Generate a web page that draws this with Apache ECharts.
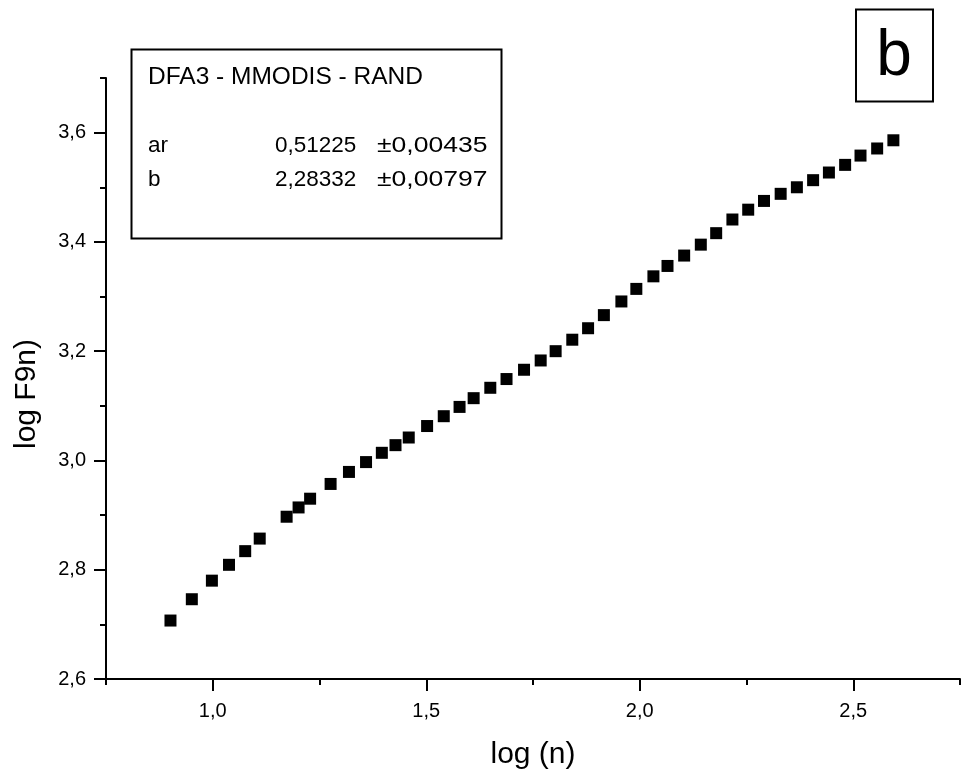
<!DOCTYPE html>
<html>
<head>
<meta charset="utf-8">
<script src="https://cdn.jsdelivr.net/npm/echarts@6/dist/echarts.min.js"></script>
<style>
  html, body { margin: 0; padding: 0; background: #fff; }
  #chart { width: 961px; height: 775px; }
</style>
</head>
<body>
<div id="chart"></div>
<script>
// log (n)
const logN = [
  0.901, 0.951, 0.998, 1.038, 1.076, 1.110, 1.173, 1.201, 1.228, 1.276,
  1.319, 1.359, 1.396, 1.428, 1.459, 1.502, 1.541, 1.578, 1.611, 1.650,
  1.688, 1.729, 1.768, 1.803, 1.842, 1.879, 1.916, 1.957, 1.992, 2.032,
  2.065, 2.104, 2.143, 2.179, 2.217, 2.254, 2.291, 2.330, 2.368, 2.406,
  2.443, 2.481, 2.517, 2.556, 2.594
];
// log F9n)
const logF = [
  2.707, 2.746, 2.780, 2.809, 2.834, 2.857, 2.897, 2.914, 2.930, 2.957,
  2.979, 2.997, 3.014, 3.028, 3.042, 3.063, 3.081, 3.098, 3.114, 3.133,
  3.149, 3.166, 3.183, 3.200, 3.221, 3.242, 3.266, 3.291, 3.314, 3.337,
  3.356, 3.375, 3.395, 3.416, 3.441, 3.459, 3.475, 3.488, 3.500, 3.513,
  3.527, 3.541, 3.558, 3.571, 3.586
];

const xMajor = [1.0, 1.5, 2.0, 2.5];
const xMinor = [0.75, 1.25, 1.75, 2.25, 2.75];
const yMajor = [2.6, 2.8, 3.0, 3.2, 3.4, 3.6];
const yMinor = [2.7, 2.9, 3.1, 3.3, 3.5, 3.7];

const fitTitle = 'DFA3 - MMODIS - RAND';
const fitRows = [
  ['ar', '0,51225', '±0,00435'],
  ['b', '2,28332', '±0,00797']
];

const FONT = '"Liberation Sans", Arial, sans-serif';
const fmt = (v) => v.toFixed(1).replace('.', ',');

const chart = echarts.init(document.getElementById('chart'));

// fit results table inside the box
const boxTexts = [];
fitRows.forEach((row, i) => {
  const y = 146 + i * 34;
  boxTexts.push({ type: 'text', z: 11, x: 148, y: y, style: { text: row[0], fontSize: 22.5, fontFamily: FONT, fill: '#000', verticalAlign: 'middle' } });
  boxTexts.push({ type: 'text', z: 11, x: 275, y: y, style: { text: row[1], fontSize: 22.5, fontFamily: FONT, fill: '#000', verticalAlign: 'middle' } });
  // the error column is printed a little wider in the original
  boxTexts.push({ type: 'text', z: 11, x: 377, y: y, scaleX: 1.18, style: { text: row[2], fontSize: 22.5, fontFamily: FONT, fill: '#000', verticalAlign: 'middle' } });
});

const option = {
  backgroundColor: '#fff',
  animation: false,
  grid: { left: 106, right: 1, top: 78, bottom: 95 },
  xAxis: [
    {
      type: 'value', min: 0.75, max: 2.75,
      name: 'log (n)', nameLocation: 'middle', nameGap: 61,
      nameTextStyle: { fontSize: 30, fontFamily: FONT, color: '#000' },
      axisLine: { show: true, onZero: false, lineStyle: { color: '#000', width: 2 } },
      axisTick: { show: true, customValues: xMajor, length: 12, lineStyle: { color: '#000', width: 2 } },
      axisLabel: { customValues: xMajor, formatter: fmt, fontSize: 20, fontFamily: FONT, color: '#000', margin: 22 },
      splitLine: { show: false }
    },
    {
      type: 'value', min: 0.75, max: 2.75, position: 'bottom',
      axisLine: { show: false, onZero: false },
      axisTick: { show: true, customValues: xMinor, length: 6, lineStyle: { color: '#000', width: 2 } },
      axisLabel: { show: false },
      splitLine: { show: false }
    }
  ],
  yAxis: [
    {
      type: 'value', min: 2.6, max: 3.7,
      axisLine: { show: true, onZero: false, lineStyle: { color: '#000', width: 2 } },
      axisTick: { show: true, customValues: yMajor, length: 12, lineStyle: { color: '#000', width: 2 } },
      axisLabel: { customValues: yMajor, formatter: fmt, fontSize: 20, fontFamily: FONT, color: '#000', margin: 20 },
      splitLine: { show: false }
    },
    {
      type: 'value', min: 2.6, max: 3.7, position: 'left',
      axisLine: { show: false, onZero: false },
      axisTick: { show: true, customValues: yMinor, length: 6, lineStyle: { color: '#000', width: 2 } },
      axisLabel: { show: false },
      splitLine: { show: false }
    }
  ],
  series: [
    {
      type: 'scatter',
      xAxisIndex: 0,
      yAxisIndex: 0,
      symbol: 'rect',
      symbolSize: 12,
      itemStyle: { color: '#000', opacity: 1 },
      data: logN.map((x, i) => [x, logF[i]])
    }
  ],
  graphic: [
    {
      // y axis title, sits a bit below the middle like the original
      type: 'text', x: 27, y: 394, rotation: Math.PI / 2,
      style: { text: 'log F9n)', fontSize: 30, fontFamily: FONT, fill: '#000', align: 'center', verticalAlign: 'middle' }
    },
    {
      type: 'rect',
      shape: { x: 131.5, y: 49.5, width: 370, height: 189 },
      style: { fill: '#fff', stroke: '#000', lineWidth: 2 },
      z: 10
    },
    {
      type: 'text', left: 148, top: 65, z: 11,
      style: { text: fitTitle, fontSize: 24.5, fontFamily: FONT, fill: '#000' }
    },
    ...boxTexts,
    {
      type: 'rect',
      shape: { x: 856, y: 9.5, width: 77, height: 92 },
      style: { fill: '#fff', stroke: '#000', lineWidth: 2 },
      z: 10
    },
    {
      type: 'text', x: 894, y: 57, z: 11,
      style: { text: 'b', fontSize: 64, fontFamily: FONT, fill: '#000', align: 'center', verticalAlign: 'middle' }
    }
  ]
};

chart.setOption(option);
</script>
</body>
</html>
